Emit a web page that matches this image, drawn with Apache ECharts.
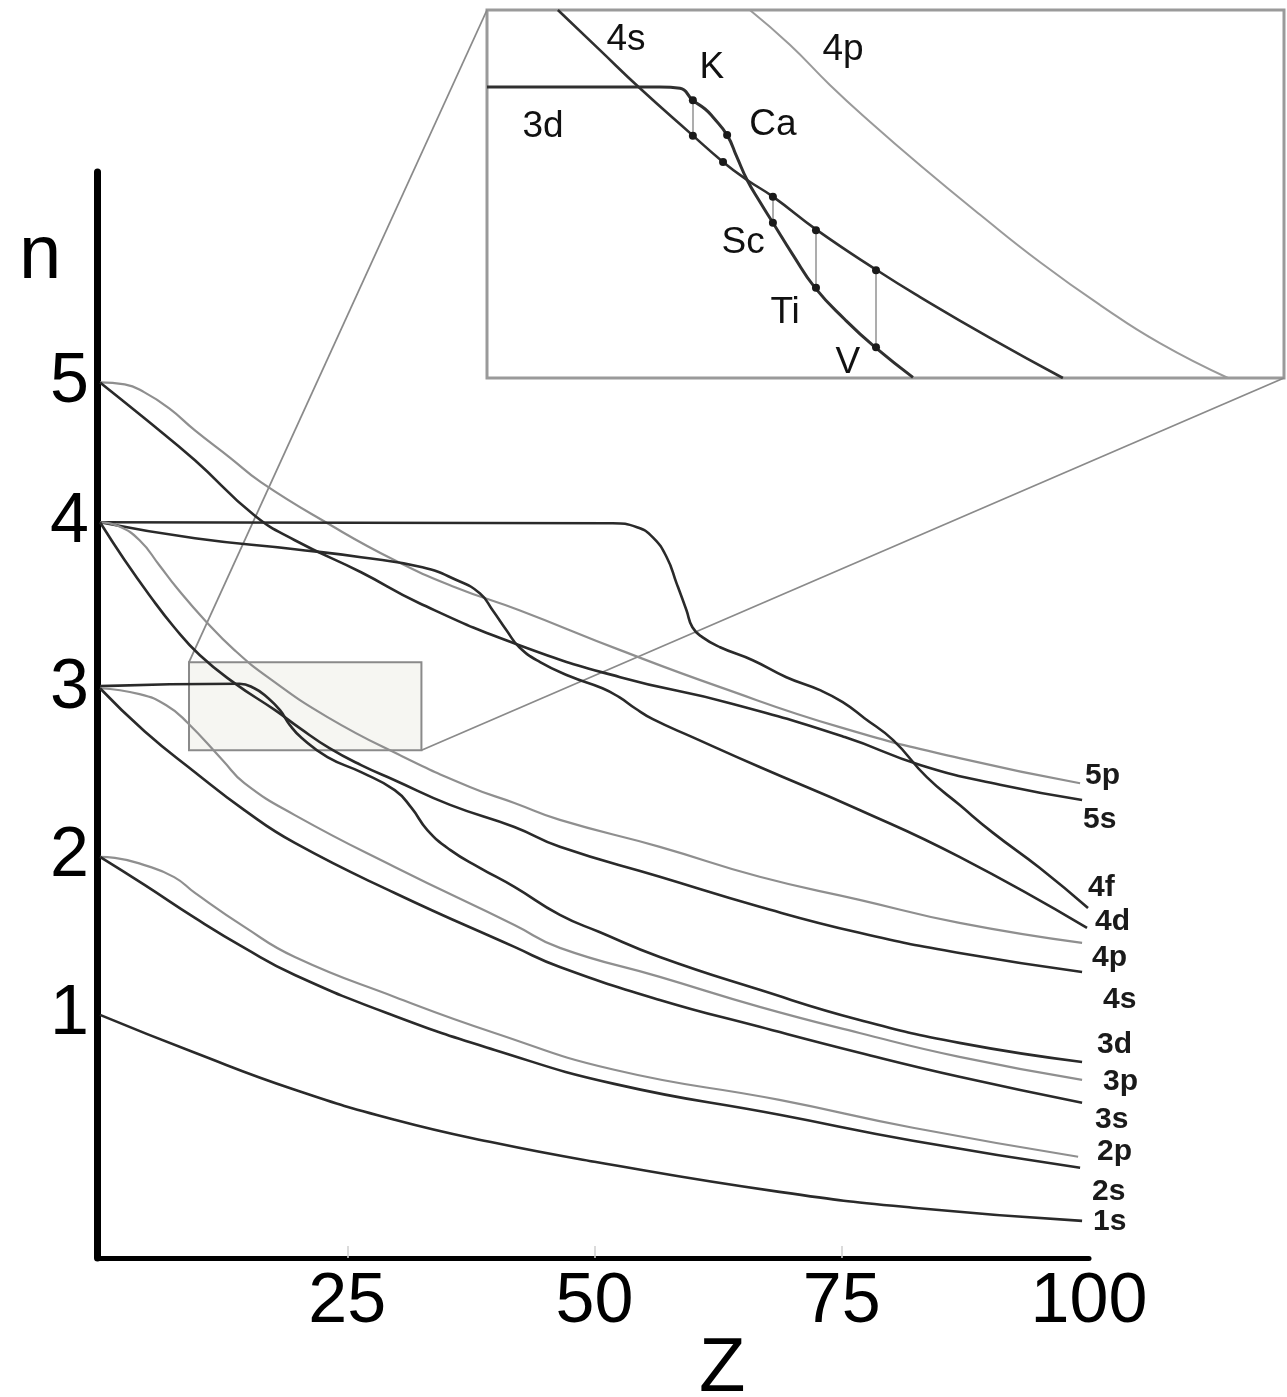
<!DOCTYPE html>
<html><head><meta charset="utf-8">
<script src="https://cdn.jsdelivr.net/npm/echarts@6/dist/echarts.min.js"></script>
<style>html,body{margin:0;padding:0;background:#fff}#c{width:1287px;height:1397px}</style>
</head><body><div id="c"></div>
<script>
// ---- tick data ----
const zTicks = [25, 50, 75, 100];
const levelValues = [0.988, 1.974, 3.027, 4.063, 4.936];
const levelLabels = ['1', '2', '3', '4', '5'];

// ---- main curves: [Z, level] ----
const orb1s = [[0,0.988],[9.6,0.751],[19.7,0.520],[29.8,0.333],[39.9,0.189],[50.0,0.071],[68.7,-0.117],[82.2,-0.216],[99.3,-0.298]];
const orb2s = [[0,1.974],[4.5,1.799],[9.6,1.593],[14.6,1.406],[19.7,1.237],[29.8,0.981],[39.9,0.769],[52.0,0.557],[68.7,0.364],[82.2,0.202],[99.1,0.033]];
const orb2p = [[0,1.974],[1.5,1.968],[4.5,1.923],[7.5,1.848],[9.6,1.749],[14.6,1.537],[19.7,1.349],[29.8,1.100],[39.9,0.875],[52.0,0.645],[68.7,0.457],[82.2,0.283],[98.9,0.102]];
const orb3s = [[0,3.027],[4.5,2.759],[9.6,2.503],[14.6,2.266],[19.7,2.061],[29.8,1.749],[41.9,1.412],[46.5,1.287],[56.6,1.081],[66.7,0.913],[76.8,0.751],[86.9,0.601],[99.3,0.439]];
const orb3p = [[0,3.027],[4.0,2.990],[6.7,2.921],[8.8,2.815],[12.4,2.578],[14.6,2.435],[19.7,2.235],[29.8,1.911],[41.9,1.549],[46.5,1.406],[56.6,1.225],[66.7,1.038],[76.8,0.875],[86.9,0.726],[99.3,0.582]];
const orb3d = [[0,3.04],[14.1,3.055],[15.6,3.027],[16.9,2.971],[18.2,2.890],[19.2,2.797],[20.4,2.716],[23.0,2.597],[26.4,2.503],[29.8,2.391],[31.5,2.280],[33.1,2.142],[35.4,2.018],[38.4,1.906],[41.9,1.787],[46.5,1.612],[50.5,1.505],[56.6,1.349],[66.7,1.144],[76.8,0.956],[86.9,0.813],[99.3,0.694]];
const orb4s = [[0,4.063],[2.5,3.826],[5.0,3.608],[7.5,3.408],[10.1,3.233],[13.6,3.059],[17.7,2.890],[20.2,2.778],[23.2,2.653],[26.4,2.547],[29.8,2.453],[35.4,2.299],[41.9,2.161],[46.5,2.037],[56.6,1.850],[66.7,1.663],[76.8,1.500],[86.9,1.374],[99.3,1.256]];
const orb4p = [[0,4.063],[1.9,4.038],[4.0,3.951],[6.0,3.795],[7.8,3.651],[10.6,3.452],[13.6,3.265],[17.1,3.090],[23.0,2.847],[30.3,2.610],[37.4,2.411],[41.9,2.311],[46.5,2.205],[56.6,2.037],[66.7,1.850],[76.8,1.706],[86.9,1.562],[99.3,1.437]];
const orb4d = [[0,4.063],[9.6,3.963],[19.7,3.895],[26.4,3.845],[32.6,3.782],[36.1,3.701],[38.4,3.620],[39.7,3.514],[41.1,3.389],[42.4,3.283],[44.5,3.190],[47.5,3.102],[50.8,3.027],[52.5,2.971],[54.1,2.902],[55.9,2.834],[59.9,2.722],[66.7,2.535],[76.8,2.267],[86.9,1.974],[99.8,1.531]];
const orb4f = [[0,4.063],[51.8,4.057],[54.3,4.032],[55.9,3.969],[57.3,3.845],[58.3,3.682],[59.3,3.514],[59.9,3.408],[60.9,3.346],[62.7,3.283],[66.0,3.202],[69.4,3.096],[72.8,3.015],[75.1,2.940],[77.3,2.840],[80.2,2.703],[83.6,2.472],[86.9,2.299],[90.3,2.124],[95.0,1.906],[99.9,1.655]];
const orb5s = [[0,4.936],[4.5,4.712],[9.6,4.450],[15.6,4.107],[19.7,3.951],[26.4,3.751],[32.3,3.558],[42.4,3.296],[52.6,3.096],[63.7,2.934],[75.3,2.722],[83.0,2.547],[91.0,2.424],[99.3,2.329]];
const orb5p = [[0,4.936],[2.5,4.924],[4.5,4.874],[7.0,4.774],[9.6,4.637],[13.1,4.469],[16.3,4.312],[23.0,4.057],[29.8,3.826],[35.9,3.658],[42.4,3.514],[52.6,3.265],[62.7,3.034],[74.8,2.784],[86.9,2.591],[99.1,2.434]];

// ---- zoom window (Z range, level range) ----
const boxZ = [9.0, 32.5];
const boxN = [2.64, 3.19];

// ---- inset curves ----
const inset3d = [[9.0,3.075],[12.33,3.075],[14.10,3.075],[14.69,3.073],[15.07,3.055],[15.43,3.042],[15.66,3.030],[16.08,3.003],[16.37,2.970],[16.67,2.936],[17.05,2.903],[17.43,2.872],[18.02,2.824],[18.67,2.775],[19.56,2.727],[20.44,2.686],[21.56,2.641]];
const inset4s = [[11.09,3.190],[12.33,3.130],[13.51,3.073],[14.99,3.006],[15.96,2.963],[16.67,2.936],[17.43,2.911],[18.73,2.861],[20.50,2.801],[21.77,2.761],[23.83,2.700],[25.98,2.640]];
const inset4p = [[16.75,3.190],[17.93,3.138],[19.11,3.078],[20.29,3.023],[21.77,2.958],[23.54,2.884],[25.31,2.813],[27.08,2.749],[28.84,2.692],[30.85,2.640]];
const elements = ['K', 'Ca', 'Sc', 'Ti', 'V'];
const elemDots3d = [[15.07,3.055],[16.08,3.003],[17.43,2.872],[18.70,2.775],[20.47,2.686]];
const elemDots4s = [[15.07,3.002],[15.96,2.963],[17.43,2.911],[18.70,2.861],[20.47,2.801]];
const elemLinked = ['K', 'Sc', 'Ti', 'V'];
const insetLabels = [
  {name:'4s', value:[13.10,3.145]}, {name:'K', value:[15.63,3.103]}, {name:'4p', value:[19.50,3.130]},
  {name:'3d', value:[10.65,3.015]}, {name:'Ca', value:[17.43,3.018]}, {name:'Sc', value:[16.55,2.842]},
  {name:'Ti', value:[17.79,2.737]}, {name:'V', value:[19.64,2.662]}
];

// ---- styles ----
const FONT = 'Liberation Sans, Arial, sans-serif';
const DARK = '#2a2a2a', LIGHT = '#8f8f8f';
const curves = [
  {name:'5p', data:orb5p, light:true, off:[-3,-8]},
  {name:'5s', data:orb5s, light:false, off:[-7,20]},
  {name:'4f', data:orb4f, light:false, off:[-8,-20]},
  {name:'4d', data:orb4d, light:false, off:[0,-6]},
  {name:'4p', data:orb4p, light:true, off:[2,15]},
  {name:'4s', data:orb4s, light:false, off:[13,28]},
  {name:'3d', data:orb3d, light:false, off:[7,-17]},
  {name:'3p', data:orb3p, light:true, off:[13,2]},
  {name:'3s', data:orb3s, light:false, off:[5,17]},
  {name:'2p', data:orb2p, light:true, off:[11,-5]},
  {name:'2s', data:orb2s, light:false, off:[4,24]},
  {name:'1s', data:orb1s, light:false, off:[3,1]}
];

const series = curves.map(c => ({
  name: c.name, type: 'line', xAxisIndex: 0, yAxisIndex: 0,
  data: c.data, showSymbol: false, symbol: 'none', smooth: 0.5,
  lineStyle: {color: c.light ? LIGHT : DARK, width: c.light ? 2.2 : 2.6},
  endLabel: {show: true, formatter: '{a}', offset: c.off, fontSize: 30, fontWeight: 'bold',
             color: '#1a1a1a', fontFamily: FONT},
  silent: true
}));

// zoom rectangle
series.push({
  name: 'zoomBox', type: 'line', xAxisIndex: 0, yAxisIndex: 0, data: [], silent: true,
  markArea: {silent: true, itemStyle: {color: 'rgba(236,236,226,0.45)', borderColor: '#8a8a8a', borderWidth: 2},
    data: [[{xAxis: boxZ[0], yAxis: boxN[1]}, {xAxis: boxZ[1], yAxis: boxN[0]}]]}
});

// inset
series.push(
  {name:'i4p', type:'line', xAxisIndex:1, yAxisIndex:1, data:inset4p, symbol:'none', smooth:0.5,
   lineStyle:{color:'#9a9a9a', width:2}, silent:true},
  {name:'i4s', type:'line', xAxisIndex:1, yAxisIndex:1, data:inset4s, symbol:'none', smooth:0.5,
   lineStyle:{color:'#303030', width:2.6}, silent:true},
  {name:'i3d', type:'line', xAxisIndex:1, yAxisIndex:1, data:inset3d, symbol:'none', smooth:0.5,
   lineStyle:{color:'#303030', width:3}, silent:true},
  {name:'dots', type:'scatter', xAxisIndex:1, yAxisIndex:1, symbolSize:8, itemStyle:{color:'#1a1a1a', opacity:1}, silent:true,
   z: 5, data: elemDots3d.concat(elemDots4s),
   markLine: {silent:true, symbol:['none','none'], label:{show:false}, lineStyle:{color:'#999', width:1.6, type:'solid'},
     data: elemLinked.map(e => { const i = elements.indexOf(e);
       return [{coord: elemDots3d[i]}, {coord: [elemDots3d[i][0], elemDots4s[i][1]]}]; })}},
  {name:'ilabels', type:'scatter', xAxisIndex:1, yAxisIndex:1, symbolSize:0, silent:true, data: insetLabels,
   itemStyle:{opacity:1},
   label:{show:true, position:'inside', formatter:'{b}', fontSize:37, color:'#111', opacity:1, fontFamily:FONT}}
);

const chart = echarts.init(document.getElementById('c'), null, {renderer:'canvas'});
chart.setOption({
  animation: false,
  backgroundColor: '#fff',
  title: [
    {text:'n', left:14, top:214, textStyle:{fontSize:76, fontWeight:'normal', color:'#000', fontFamily:FONT}},
    {text:'Z', left:694, top:1327, textStyle:{fontSize:76, fontWeight:'normal', color:'#000', fontFamily:FONT}}
  ],
  grid: [
    {left:100, right:198, top:172, bottom:139},
    {left:487, top:10, width:797, height:368, show:true, borderColor:'#9a9a9a', borderWidth:3, backgroundColor:'#fff'}
  ],
  xAxis: [
    {gridIndex:0, type:'value', min:0, max:100,
     axisLine:{onZero:false, lineStyle:{color:'#000', width:5}},
     axisTick:{show:true, inside:true, length:12, customValues:[25,50,75], lineStyle:{color:'#cfcfcf', width:1.5}},
     axisLabel:{customValues:zTicks, fontSize:70, color:'#000', margin:10, fontFamily:FONT},
     splitLine:{show:false}},
    {gridIndex:1, type:'value', min:boxZ[0], max:boxZ[1], show:false}
  ],
  yAxis: [
    {gridIndex:0, type:'value', min:-0.53, max:6.25, offset:3,
     axisLine:{onZero:false, lineStyle:{color:'#000', width:7}},
     axisTick:{show:false}, splitLine:{show:false},
     axisLabel:{customValues:levelValues, formatter:v => levelLabels[levelValues.indexOf(v)] ?? '',
                fontSize:70, color:'#000', margin:8, fontFamily:FONT}},
    {gridIndex:1, type:'value', min:boxN[0], max:boxN[1], show:false}
  ],
  series: series
});

// connector lines between zoom box and inset
const a1 = chart.convertToPixel({xAxisIndex:0, yAxisIndex:0}, [boxZ[0], boxN[1]]);
const b1 = chart.convertToPixel({xAxisIndex:1, yAxisIndex:1}, [boxZ[0], boxN[1]]);
const a2 = chart.convertToPixel({xAxisIndex:0, yAxisIndex:0}, [boxZ[1], boxN[0]]);
const b2 = chart.convertToPixel({xAxisIndex:1, yAxisIndex:1}, [boxZ[1], boxN[0]]);
chart.setOption({graphic: [
  {type:'line', z:1, silent:true, shape:{x1:a1[0], y1:a1[1], x2:b1[0], y2:b1[1]}, style:{stroke:'#8a8a8a', lineWidth:1.8}},
  {type:'line', z:1, silent:true, shape:{x1:a2[0], y1:a2[1], x2:b2[0], y2:b2[1]}, style:{stroke:'#8a8a8a', lineWidth:1.8}}
]});
</script>
</body></html>
